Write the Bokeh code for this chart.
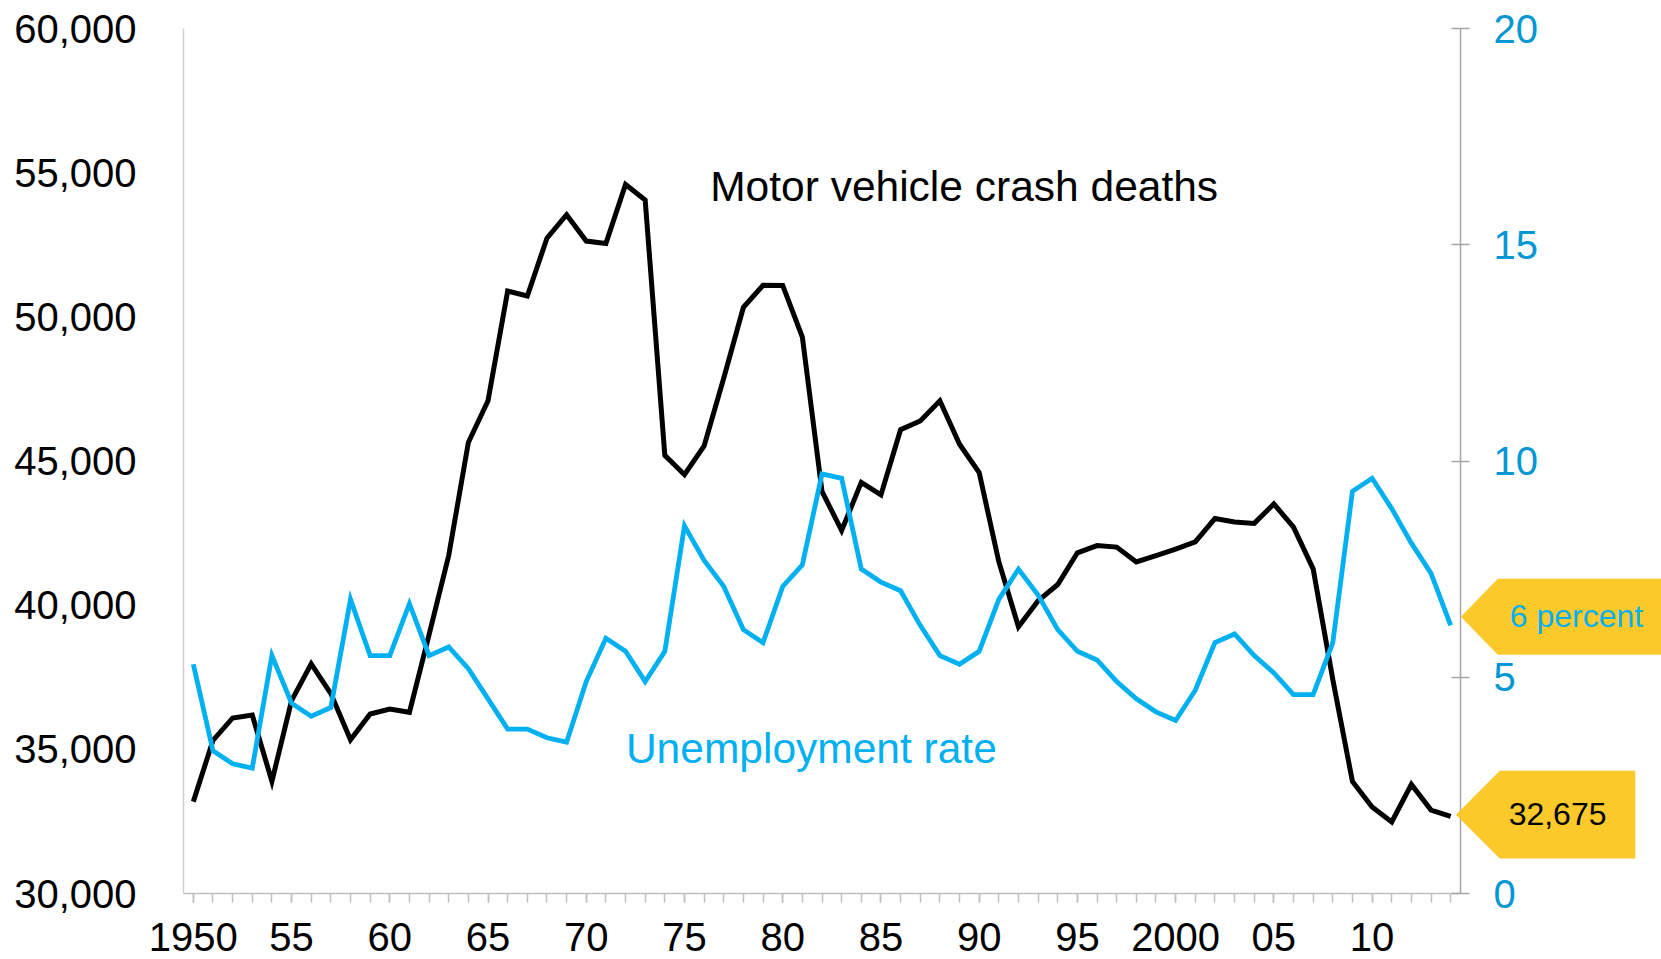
from bokeh.plotting import figure
from bokeh.models import (Range1d, LinearAxis, FixedTicker, NumeralTickFormatter,
                          Label, PolyAnnotation, ColumnDataSource)
from bokeh.embed import file_html
from bokeh.resources import INLINE

years = list(range(1950, 2015))
crash_deaths = [33186, 35309, 36088, 36190, 33890, 36688, 37965, 36932, 35331, 36223,
                36399, 36285, 38980, 41723, 45645, 47089, 50894, 50724, 52725, 53543,
                52627, 52542, 54589, 54052, 45196, 44525, 45523, 47878, 50331, 51093,
                51091, 49301, 43945, 42589, 44257, 43825, 46087, 46390, 47087, 45582,
                44599, 41508, 39250, 40150, 40716, 41817, 42065, 42013, 41501, 41717,
                41945, 42196, 43005, 42884, 42836, 43510, 42708, 41259, 37423, 33883,
                32999, 32479, 33782, 32894, 32675]
unemployment_rate = [5.3, 3.3, 3.0, 2.9, 5.5, 4.4, 4.1, 4.3, 6.8, 5.5,
                     5.5, 6.7, 5.5, 5.7, 5.2, 4.5, 3.8, 3.8, 3.6, 3.5,
                     4.9, 5.9, 5.6, 4.9, 5.6, 8.5, 7.7, 7.1, 6.1, 5.8,
                     7.1, 7.6, 9.7, 9.6, 7.5, 7.2, 7.0, 6.2, 5.5, 5.3,
                     5.6, 6.8, 7.5, 6.9, 6.1, 5.6, 5.4, 4.9, 4.5, 4.2,
                     4.0, 4.7, 5.8, 6.0, 5.5, 5.1, 4.6, 4.6, 5.8, 9.3,
                     9.6, 8.9, 8.1, 7.4, 6.2]
x_major_ticks = [1950, 1955, 1960, 1965, 1970, 1975, 1980, 1985, 1990, 1995, 2000, 2005, 2010]
x_tick_labels = ["1950", "55", "60", "65", "70", "75", "80", "85", "90", "95", "2000", "05", "10"]
left_ticks = [30000, 35000, 40000, 45000, 50000, 55000, 60000]
right_ticks = [0, 5, 10, 15, 20]
deaths_label = "Motor vehicle crash deaths"
unemp_label = "Unemployment rate"
deaths_callout = "32,675"
unemp_callout = "6 percent"

FONT = "Liberation Sans"
BLUE = "#00b0f0"
AXBLUE = "#0097d4"
YELLOW = "#fcc92b"
TICK_FS = "40px"

W, H = 1661, 959
# plot area (axes box) in canvas pixels
AX_L, AX_R, AX_T, AX_B = 183, 1460, 28, 893

x0, x1 = years[0] - 0.5, years[-1] + 0.5
ppx = (AX_R - AX_L) / (x1 - x0)
d0, d1 = left_ticks[0], left_ticks[-1]
ppd = (AX_B - AX_T) / (d1 - d0)
u0, u1 = right_ticks[0], right_ticks[-1]
ppu = (AX_B - AX_T) / (u1 - u0)


def u_to_d(u):
    return d0 + (u - u0) * (d1 - d0) / (u1 - u0)


x_range = Range1d(x0 - AX_L / ppx, x1 + (W - AX_R) / ppx)
y_range = Range1d(d0 - (H - AX_B) / ppd, d1 + AX_T / ppd)
u_range = Range1d(u0 - (H - AX_B) / ppu, u1 + AX_T / ppu)

p = figure(width=W, height=H, output_backend="svg", toolbar_location=None,
           x_range=x_range, y_range=y_range,
           min_border_left=0, min_border_right=0, min_border_top=0, min_border_bottom=0)
p.extra_y_ranges = {"unemp": u_range}
p.outline_line_color = None
p.xgrid.visible = False
p.ygrid.visible = False
p.background_fill_color = "white"
p.border_fill_color = "white"

# x axis
xa = p.xaxis[0]
xa.fixed_location = d0
xa.bounds = (x0, x1)
xa.ticker = FixedTicker(ticks=x_major_ticks, minor_ticks=years)
xa.major_label_overrides = {t: l for t, l in zip(x_major_ticks, x_tick_labels)}
xa.axis_line_color = "#bfbfbf"
xa.axis_line_width = 1.5
xa.major_tick_line_color = "#bfbfbf"
xa.minor_tick_line_color = "#bfbfbf"
xa.major_tick_line_width = 1.5
xa.minor_tick_line_width = 1.5
xa.major_tick_in = 0
xa.major_tick_out = 9
xa.minor_tick_in = 0
xa.minor_tick_out = 9
xa.major_label_standoff = 20
xa.major_label_text_font = FONT
xa.major_label_text_font_size = TICK_FS
xa.major_label_text_color = "black"

# left axis
ya = p.yaxis[0]
ya.fixed_location = x0
ya.bounds = (d0, d1)
ya.ticker = FixedTicker(ticks=left_ticks)
ya.formatter = NumeralTickFormatter(format="0,0")
ya.axis_line_color = "#d0d0d0"
ya.axis_line_width = 1.5
ya.major_tick_in = 0
ya.major_tick_out = 0
ya.minor_tick_in = 0
ya.minor_tick_out = 0
ya.major_label_standoff = 47
ya.major_label_text_font = FONT
ya.major_label_text_font_size = TICK_FS
ya.major_label_text_color = "black"

# right axis
ra = LinearAxis(y_range_name="unemp", ticker=FixedTicker(ticks=right_ticks),
                fixed_location=x1, bounds=(u0, u1))
ra.axis_line_color = "#a6a6a6"
ra.axis_line_width = 1.5
ra.major_tick_line_color = "#a6a6a6"
ra.major_tick_line_width = 1.5
ra.major_tick_in = 9
ra.major_tick_out = 9
ra.minor_tick_in = 0
ra.minor_tick_out = 0
ra.major_label_standoff = 24
ra.major_label_text_font = FONT
ra.major_label_text_font_size = TICK_FS
ra.major_label_text_color = AXBLUE
p.add_layout(ra, "right")

src = ColumnDataSource(dict(year=years, deaths=crash_deaths, unemp=unemployment_rate))
p.line("year", "deaths", source=src, line_color="black", line_width=5, line_join="miter")
p.line("year", "unemp", source=src, line_color=BLUE, line_width=4.8, line_join="miter",
       y_range_name="unemp")

# callouts
ly = years[-1]
dv = crash_deaths[-1]
uv = unemployment_rate[-1]
p.add_layout(PolyAnnotation(xs=[ly + 0.27, ly + 2.5, ly + 9.4, ly + 9.4, ly + 2.5],
                            ys=[dv + 60, dv + 1580, dv + 1580, dv - 1460, dv - 1460],
                            fill_color=YELLOW, fill_alpha=1.0, line_color=None))
p.add_layout(PolyAnnotation(xs=[ly + 0.52, ly + 2.4, ly + 12, ly + 12, ly + 2.4],
                            ys=[u_to_d(uv + 0.2), u_to_d(uv + 1.08), u_to_d(uv + 1.08),
                                u_to_d(uv - 0.68), u_to_d(uv - 0.68)],
                            fill_color=YELLOW, fill_alpha=1.0, line_color=None))
p.add_layout(Label(x=ly + 2.95, y=dv + 82, text=deaths_callout, text_font=FONT,
                   text_font_size="32px", text_color="black", text_baseline="middle"))
p.add_layout(Label(x=ly + 3.01, y=uv + 0.22, y_range_name="unemp", text=unemp_callout,
                   text_font=FONT, text_font_size="32px", text_color=BLUE,
                   text_baseline="middle"))

# series labels
p.add_layout(Label(x=1976.31, y=54509, text=deaths_label, text_font=FONT,
                   text_font_size="42.5px", text_color="black", text_baseline="middle"))
p.add_layout(Label(x=1972.02, y=3.346, y_range_name="unemp", text=unemp_label, text_font=FONT,
                   text_font_size="42.5px", text_color=BLUE, text_baseline="middle"))

open("out.html", "w").write(file_html(p, INLINE))
